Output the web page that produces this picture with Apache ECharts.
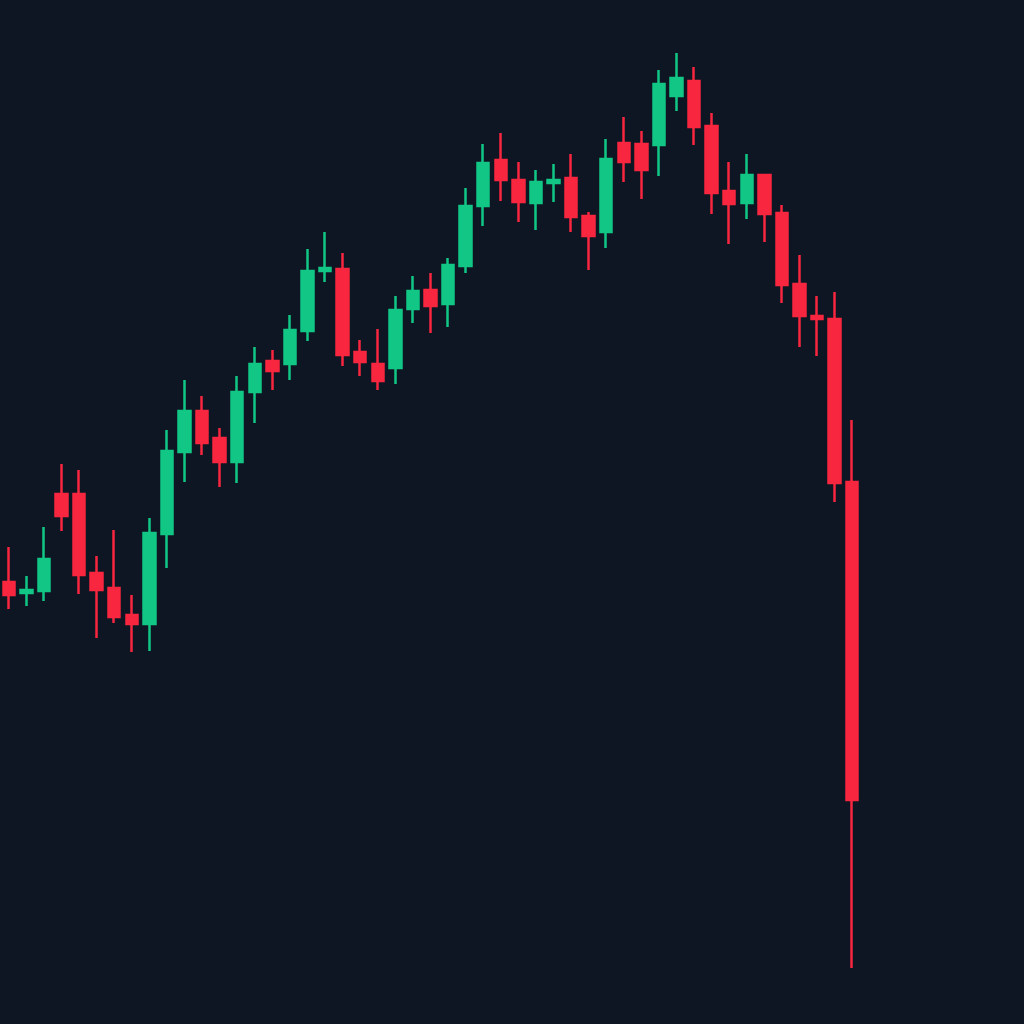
<!DOCTYPE html>
<html>
<head>
<meta charset="utf-8">
<script src="https://cdn.jsdelivr.net/npm/echarts@6/dist/echarts.min.js"></script>
<style>
  html, body { margin: 0; padding: 0; background: #0f1623; }
  #chart { width: 1024px; height: 1024px; }
</style>
</head>
<body>
<div id="chart"></div>
<script>
// candle values (arbitrary price units)
const opens  = [442, 431, 433, 530, 530, 451, 436, 409, 400, 490, 572, 613, 586, 562, 632, 663, 660, 693, 753, 755,
                672, 660, 656, 715, 734, 720, 758, 818, 864, 844, 821, 841, 846, 808, 792, 881, 880, 879, 928, 943,
                898, 833, 821, 849, 811, 740, 708, 705, 542];
const closes = [429, 434, 465, 508, 449, 434, 407, 400, 491, 573, 613, 581, 562, 632, 660, 653, 694, 753, 756, 669,
                662, 643, 714, 733, 718, 759, 818, 861, 844, 822, 842, 844, 807, 788, 865, 862, 854, 940, 946, 897,
                831, 820, 849, 810, 739, 708, 705, 541, 224];
const lows   = [415, 418, 423, 493, 430, 386, 401, 372, 373, 456, 542, 569, 537, 541, 601, 634, 644, 683, 742, 658,
                648, 634, 640, 701, 691, 697, 751, 798, 823, 802, 794, 822, 792, 754, 776, 842, 825, 848, 913, 879,
                810, 780, 805, 782, 721, 677, 668, 522, 56];
const highs  = [477, 448, 497, 560, 554, 468, 494, 429, 506, 594, 644, 628, 596, 648, 677, 674, 709, 775, 792, 771,
                684, 695, 728, 748, 751, 766, 836, 880, 891, 862, 854, 860, 870, 812, 885, 907, 893, 954, 971, 957,
                911, 862, 870, 849, 819, 769, 728, 732, 604];
const days = opens.map((_, i) => 'd' + (i + 1));

const chart = echarts.init(document.getElementById('chart'));
chart.setOption({
  backgroundColor: '#0f1623',
  animation: false,
  grid: { left: -1, right: 163, top: 0, bottom: 0 },
  xAxis: { type: 'category', data: days, show: false },
  yAxis: { type: 'value', min: 0, max: 1024, show: false, splitLine: { show: false } },
  series: [{
    type: 'candlestick',
    barWidth: 12,
    itemStyle: {
      color: '#12c785',
      color0: '#f8263f',
      borderColor: '#12c785',
      borderColor0: '#f8263f',
      borderWidth: 2.5
    },
    data: opens.map((o, i) => [o, closes[i], lows[i], highs[i]])
  }]
});
</script>
</body>
</html>
